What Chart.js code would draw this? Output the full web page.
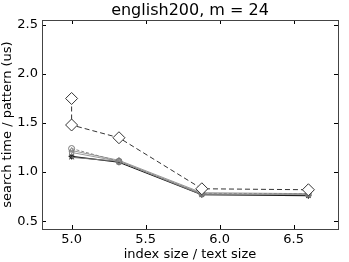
<!DOCTYPE html>
<html>
<head>
<meta charset="utf-8">
<script src="https://cdn.jsdelivr.net/npm/chart.js@4/dist/chart.umd.min.js"></script>
<style>
  html, body { margin: 0; padding: 0; background: #fff; }
  #wrap { width: 349px; height: 262px; }
</style>
</head>
<body>
<div id="wrap"><canvas id="grafico"></canvas></div>
<script>
// Datos
const xDiamante = [5.0, 5.0, 5.32, 5.88, 6.6];
const yDiamante = [1.75, 1.48, 1.35, 0.83, 0.82];
const xPuntos = [5.0, 5.32, 5.88, 6.6];
const ySolida = [1.16, 1.10, 0.77, 0.76];
const yCirculos = [1.24, 1.11, 0.78, 0.78];
const yCruces = [1.15, 1.11, 0.77, 0.77];
const yCuadros = [1.20, 1.11, 0.78, 0.77];
const yTriangulos = [1.22, 1.12, 0.79, 0.78];
const xTicks = [5.0, 5.5, 6.0, 6.5];
const yTicks = [0.5, 1.0, 1.5, 2.0, 2.5];
const titulo = 'english200, m = 24';

const pares = (xs, ys) => xs.map((x, i) => ({ x: x, y: ys[i] }));

// marcas hacia dentro y titulo centrado sobre el area del grafico, estilo matplotlib
const marcasInternas = {
    id: 'marcasInternas',
    afterDraw(chart) {
        const { ctx, chartArea: a, scales } = chart;
        ctx.save();
        ctx.strokeStyle = '#000';
        ctx.lineWidth = 1;
        xTicks.forEach(v => {
            const px = Math.round(scales.x.getPixelForValue(v)) + 0.5;
            ctx.beginPath();
            ctx.moveTo(px, a.bottom); ctx.lineTo(px, a.bottom - 4);
            ctx.moveTo(px, a.top); ctx.lineTo(px, a.top + 4);
            ctx.stroke();
        });
        yTicks.forEach(v => {
            const py = Math.round(scales.y.getPixelForValue(v)) + 0.5;
            ctx.beginPath();
            ctx.moveTo(a.left, py); ctx.lineTo(a.left + 4, py);
            ctx.moveTo(a.right, py); ctx.lineTo(a.right - 4, py);
            ctx.stroke();
        });
        ctx.strokeStyle = '#444';
        ctx.strokeRect(a.left + 0.5, a.top + 0.5, a.right - a.left, a.bottom - a.top);

        ctx.fillStyle = '#000';
        ctx.font = '16px "DejaVu Sans"';
        ctx.textAlign = 'center';
        ctx.textBaseline = 'alphabetic';
        ctx.fillText(titulo, (a.left + a.right) / 2, a.top - 5);
        ctx.restore();
    }
};

const fuente = { family: 'DejaVu Sans', size: 13 };

new Chart(document.getElementById('grafico'), {
    type: 'scatter',
    data: {
        datasets: [
            {
                data: pares(xDiamante, yDiamante),
                showLine: true,
                borderColor: '#333',
                borderWidth: 1,
                borderDash: [5, 3],
                pointStyle: 'rectRot',
                pointRadius: 6,
                pointBorderColor: '#333',
                pointBackgroundColor: '#fff',
                pointBorderWidth: 1
            },
            {
                data: pares(xPuntos, yCirculos),
                showLine: true,
                borderColor: '#888',
                borderWidth: 1,
                borderDash: [3, 2],
                pointStyle: 'circle',
                pointRadius: 3,
                pointBorderColor: '#777',
                pointBackgroundColor: 'rgba(255,255,255,0)'
            },
            {
                data: pares(xPuntos, yTriangulos),
                showLine: true,
                borderColor: '#999',
                borderWidth: 1,
                pointStyle: 'triangle',
                pointRadius: 3,
                pointBorderColor: '#888',
                pointBackgroundColor: 'rgba(255,255,255,0)'
            },
            {
                data: pares(xPuntos, yCuadros),
                showLine: true,
                borderColor: '#999',
                borderWidth: 1,
                pointStyle: 'rect',
                pointRadius: 3,
                pointBorderColor: '#888',
                pointBackgroundColor: 'rgba(255,255,255,0)'
            },
            {
                data: pares(xPuntos, yCruces),
                showLine: true,
                borderColor: '#777',
                borderWidth: 1,
                pointStyle: 'crossRot',
                pointRadius: 3,
                pointBorderColor: '#555'
            },
            {
                data: pares(xPuntos, ySolida),
                showLine: true,
                borderColor: '#111',
                borderWidth: 1.2,
                pointStyle: 'star',
                pointRadius: 3,
                pointBorderColor: '#222'
            }
        ]
    },
    options: {
        responsive: true,
        maintainAspectRatio: false,
        animation: false,
        layout: { padding: { top: 20, right: 11, bottom: 0, left: 0 } },
        plugins: {
            legend: { display: false },
            tooltip: { enabled: false },
            title: { display: false }
        },
        scales: {
            x: {
                type: 'linear',
                min: 4.8,
                max: 6.8,
                afterBuildTicks: s => { s.ticks = xTicks.map(v => ({ value: v })); },
                afterFit: s => { s.height = 33; },
                grid: { display: false, drawTicks: false },
                border: { display: false },
                ticks: { color: '#000', font: fuente, padding: 3, callback: v => v.toFixed(1), maxRotation: 0 },
                title: { display: true, text: 'index size / text size', color: '#000', font: fuente, padding: { top: 0, bottom: 0 } }
            },
            y: {
                min: 0.42,
                max: 2.55,
                afterBuildTicks: s => { s.ticks = yTicks.map(v => ({ value: v })); },
                afterFit: s => { s.width = 42; },
                grid: { display: false, drawTicks: false },
                border: { display: false },
                ticks: { color: '#000', font: fuente, padding: 4, callback: v => v.toFixed(1) },
                title: { display: true, text: 'search time / pattern (us)', color: '#000', font: fuente, padding: { top: 0, bottom: 0 } }
            }
        }
    },
    plugins: [marcasInternas]
});
</script>
</body>
</html>
